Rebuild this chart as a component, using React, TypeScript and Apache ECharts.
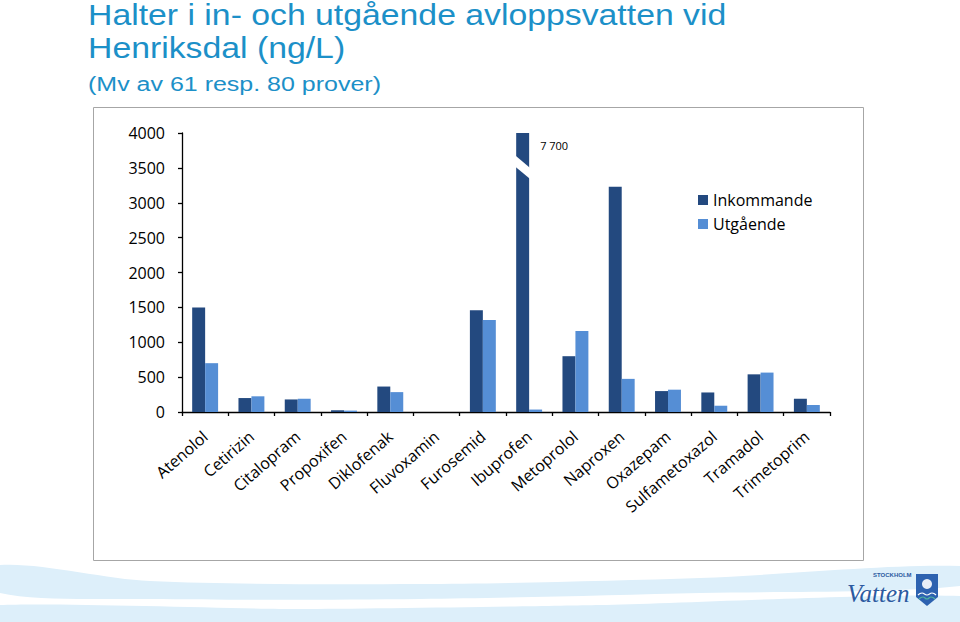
import React, { useEffect, useRef } from "react";
import * as echarts from "echarts";

const categories = [
  "Atenolol", "Cetirizin", "Citalopram", "Propoxifen", "Diklofenak", "Fluvoxamin", "Furosemid",
  "Ibuprofen", "Metoprolol", "Naproxen", "Oxazepam", "Sulfametoxazol", "Tramadol", "Trimetoprim",
];
const inkommande = [1500, 200, 180, 25, 365, 0, 1460, 7700, 800, 3230, 300, 280, 540, 190];
const utgaende = [700, 225, 190, 20, 285, 0, 1320, 35, 1160, 475, 320, 90, 565, 100];
const yTicks = [0, 500, 1000, 1500, 2000, 2500, 3000, 3500, 4000];
const seriesNames = ["Inkommande", "Utgående"];
const titleLines = ["Halter i in- och utgående avloppsvatten vid", "Henriksdal (ng/L)"];
const subTitle = "(Mv av 61 resp. 80 prover)";

const DARK = "#23497F";
const LIGHT = "#558ED5";
const TITLE = "#1C90C8";
const FONT = '"Open Sans", sans-serif';

function fmtSv(v: number) {
  return String(v).replace(/\B(?=(\d{3})+(?!\d))/g, " ");
}

export default function App() {
  const ref = useRef<HTMLDivElement>(null);
  useEffect(() => {
    if (!ref.current) return;
    const chart = echarts.init(ref.current, undefined, { renderer: "svg" });
    const yMax = yTicks[yTicks.length - 1];
    const gap = 0.44;
    chart.setOption({
      animation: false,
      backgroundColor: "#ffffff",
      grid: { left: 182, width: 648, top: 133, height: 279, containLabel: false, outerBoundsMode: "none" },
      legend: {
        data: seriesNames,
        orient: "vertical",
        left: 693,
        top: 187,
        icon: "rect",
        itemWidth: 10,
        itemHeight: 10,
        itemGap: 8,
        textStyle: { fontFamily: FONT, fontSize: 16, color: "#000" },
      },
      xAxis: {
        type: "category",
        data: categories,
        axisLine: { lineStyle: { color: "#000", width: 1.3 } },
        axisTick: { show: true, alignWithLabel: false, length: 4, lineStyle: { color: "#000", width: 1.3 }, interval: 0 },
        axisLabel: { interval: 0, rotate: 41, margin: 22, fontFamily: FONT, fontSize: 16, color: "#000" },
        splitLine: { show: false },
      },
      yAxis: {
        type: "value",
        min: yTicks[0],
        max: yMax,
        interval: yTicks[1] - yTicks[0],
        axisLine: { show: true, lineStyle: { color: "#000", width: 1.3 } },
        axisTick: { show: true, length: 4, lineStyle: { color: "#000", width: 1.3 } },
        axisLabel: { margin: 17, fontFamily: FONT, fontSize: 16, color: "#000", formatter: (v: number) => String(v) },
        splitLine: { show: false },
      },
      series: [
        {
          name: seriesNames[0],
          type: "bar",
          data: inkommande,
          itemStyle: { color: DARK },
          barGap: "0%",
          barCategoryGap: gap * 100 + "%",
          clip: true,
        },
        {
          name: seriesNames[1],
          type: "bar",
          data: utgaende,
          itemStyle: { color: LIGHT },
          barGap: "0%",
          barCategoryGap: gap * 100 + "%",
          clip: true,
        },
      ],
    });

    const idx = inkommande.findIndex((v) => v > yMax);
    const px = (i: number) => chart.convertToPixel({ xAxisIndex: 0 }, i) as number;
    const py = (v: number) => chart.convertToPixel({ yAxisIndex: 0 }, v) as number;
    const band = px(1) - px(0);
    const bw = (band * (1 - gap)) / 2;
    const cx = px(idx);
    const L = cx - bw - 2;
    const R = cx + 1;

    const titleFont = '29px "Liberation Sans", Arial, sans-serif';
    const graphics: any[] = [
      {
        type: "polygon",
        z: -10,
        shape: {
          points: [[0, 565], [150, 581], [420, 584], [700, 578], [960, 566], [960, 586], [700, 593], [420, 599], [150, 599], [0, 593]],
          smooth: 0.3,
        },
        style: { fill: "#DDEFFA" },
      },
      {
        type: "polygon",
        z: -10,
        shape: {
          points: [[0, 605], [300, 609], [600, 605], [960, 596], [960, 622], [0, 622]],
          smooth: 0.2,
        },
        style: { fill: "#DDEFFA" },
      },
      {
        type: "rect",
        z: -5,
        shape: { x: 93.5, y: 107.5, width: 770, height: 453 },
        style: { fill: "#ffffff", stroke: "#A6A6A6", lineWidth: 1 },
      },
      {
        type: "text",
        x: 88,
        y: 15,
        scaleX: 1.165,
        style: { text: titleLines[0], x: 0, y: 0, verticalAlign: "middle", font: titleFont, fill: TITLE },
      },
      {
        type: "text",
        x: 88,
        y: 48,
        scaleX: 1.165,
        style: { text: titleLines[1], x: 0, y: 0, verticalAlign: "middle", font: titleFont, fill: TITLE },
      },
      {
        type: "text",
        x: 88,
        y: 84,
        scaleX: 1.25,
        style: { text: subTitle, x: 0, y: 0, verticalAlign: "middle", font: '20px "Liberation Sans", Arial, sans-serif', fill: TITLE },
      },
      {
        type: "polygon",
        z: 100,
        shape: { points: [[L, py(3690)], [R, py(3500)], [R, py(3340)], [L, py(3530)]] },
        style: { fill: "#ffffff" },
      },
      {
        type: "text",
        z: 100,
        style: { text: fmtSv(inkommande[idx]), x: cx + 11, y: py(3820), verticalAlign: "middle", font: '11px "Open Sans", sans-serif', fill: "#000" },
      },
      {
        type: "text",
        style: { text: "STOCKHOLM", x: 873, y: 575, verticalAlign: "middle", font: 'bold 6px "Liberation Sans", sans-serif', fill: "#2C5AA0" },
      },
      {
        type: "text",
        style: { text: "Vatten", x: 847, y: 593, verticalAlign: "middle", font: 'italic 25px "Liberation Serif", serif', fill: "#2C5AA0" },
      },
      {
        type: "polygon",
        shape: { points: [[916, 574], [938, 574], [938, 597], [927, 606], [916, 597]] },
        style: { fill: "#2D62B0" },
      },
      {
        type: "circle",
        shape: { cx: 927, cy: 584, r: 5 },
        style: { fill: "#E8EEF8" },
      },
      {
        type: "polyline",
        shape: { points: [[918, 595], [922, 593], [927, 595], [932, 593], [936, 595]], smooth: 0.5 },
        style: { stroke: "#ffffff", lineWidth: 1.2, fill: "none" },
      },
      {
        type: "polyline",
        shape: { points: [[919, 599], [923, 597], [927, 599], [931, 597], [935, 599]], smooth: 0.5 },
        style: { stroke: "#4FB3A0", lineWidth: 1.2, fill: "none" },
      },
    ];
    chart.setOption({ graphic: graphics });
    return () => chart.dispose();
  }, []);
  return <div ref={ref} style={{ position: "absolute", left: 0, top: 0, width: 960, height: 622 }} />;
}
